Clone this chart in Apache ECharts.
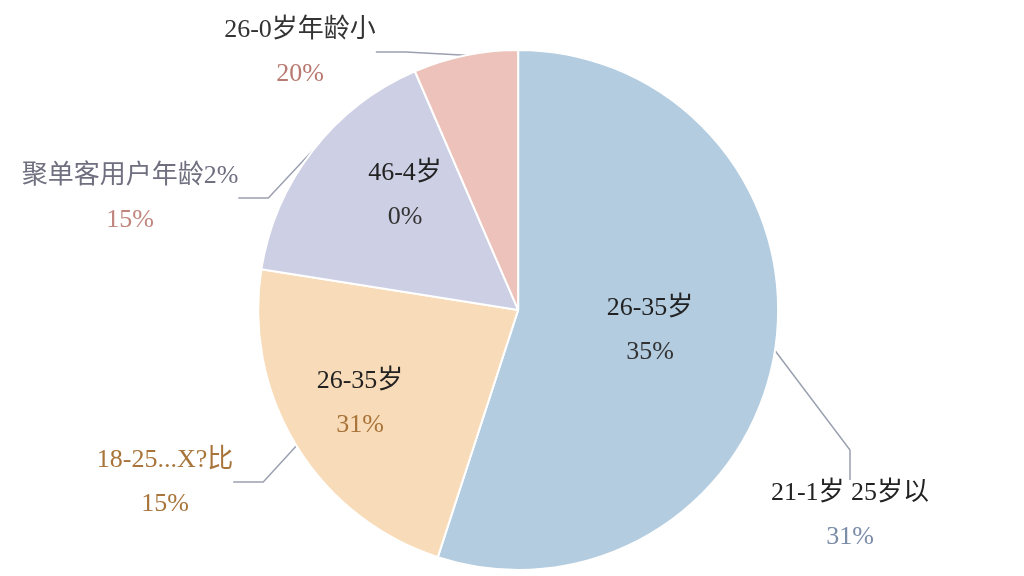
<!DOCTYPE html><html><head><meta charset="utf-8">
<script src="https://cdn.jsdelivr.net/npm/echarts@6/dist/echarts.min.js"></script>
<style>html,body{margin:0;background:#fff}#c{width:1024px;height:576px}</style></head><body><div id="c"></div>
<script>
const values=[55,22.5,16,6.5];
const colors=['#b3cce0','#f8dbb8','#cdd0e4','#ecc2ba'];
const innerNames=['26-35岁','26-35岁','46-4岁',''];
const innerPcts=['35%','31%','0%',''];
const outerNames=['21-1岁 25岁以','18-25...X?比','聚单客用户年龄2%','26-0岁年龄小'];
const outerPcts=['31%','15%','15%','20%'];
const outerColors=[['#222','#7a8ca8'],['#a8743a','#a8743a'],['#6f6f80','#c0857d'],['#333','#b87a70']];
const outerPos=[[850,515],[165,482],[130,198],[300,52]];
const innerPos=[[650,330],[360,403],[405,195],[0,0]];
const font='"Liberation Serif","Noto Sans CJK SC",serif';
const chart=echarts.init(document.getElementById('c'));
function mk(outside){
 return {type:'pie',center:['50.6%','53.8%'],radius:[0,260],startAngle:90,clockwise:true,
  itemStyle:{borderColor:'#fff',borderWidth:2},
  data:values.map((v,i)=>({value:v,itemStyle:{color:outside?'rgba(0,0,0,0)':colors[i],borderColor:outside?'rgba(0,0,0,0)':'#fff'},
   label:outside?{show:true,position:'outside',formatter:'{a|'+outerNames[i]+'}\n{b|'+outerPcts[i]+'}',
     rich:{a:{fontSize:26,fontFamily:font,color:outerColors[i][0],lineHeight:44},b:{fontSize:26,fontFamily:font,color:outerColors[i][1],lineHeight:44}}}
    :{show:!!innerNames[i],position:'inside',formatter:'{a|'+innerNames[i]+'}\n{b|'+innerPcts[i]+'}',
     rich:{a:{fontSize:26,fontFamily:font,color:'#222',lineHeight:44},b:{fontSize:26,fontFamily:font,color:i==1?'#a8743a':'#333',lineHeight:44}}},
   labelLine:{show:outside,lineStyle:{color:'#9aa0b0',width:1.5}}})),
  labelLayout:function(p){const pos=outside?outerPos[p.dataIndex]:innerPos[p.dataIndex];return {x:pos[0],y:pos[1],align:'center',verticalAlign:'middle'};},
  emphasis:{disabled:true},silent:true,animation:false};
}
chart.setOption({animation:false,series:[mk(false),mk(true)]});
</script></body></html>
